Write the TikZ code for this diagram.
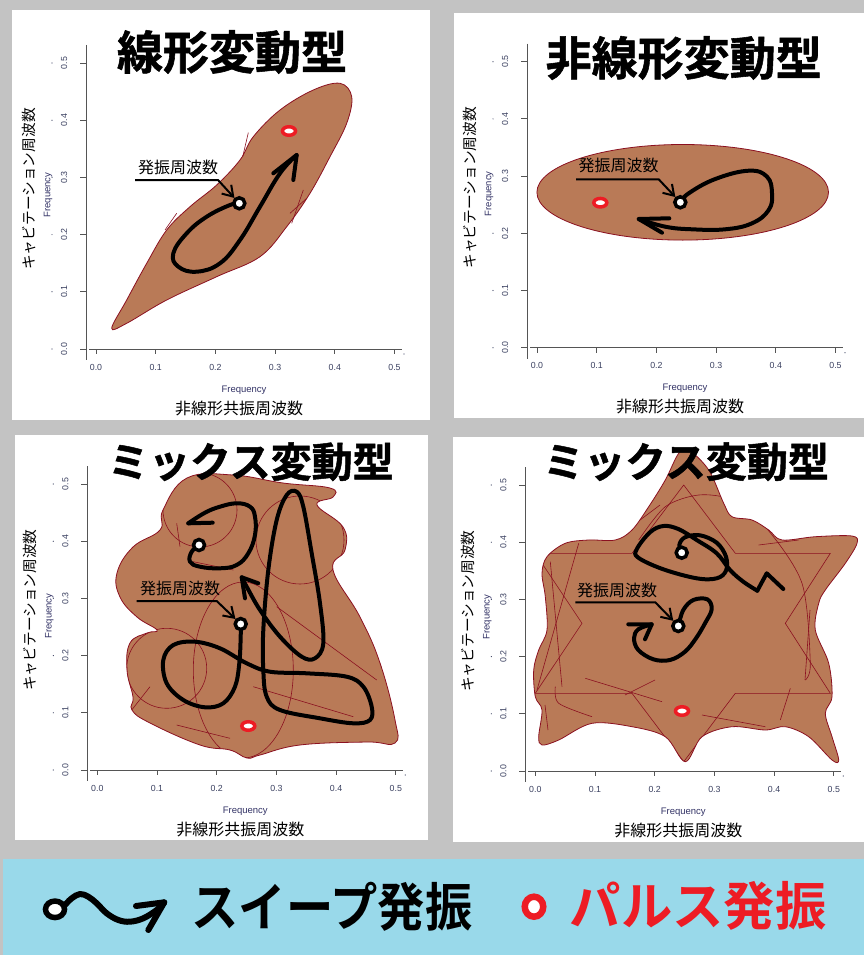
\documentclass[tikz,border=0pt]{standalone}
\usepackage{fontspec}
\usetikzlibrary{arrows.meta,shapes.geometric}
\newfontfamily\jp{Noto Sans CJK JP}
\newfontfamily\jpb{Noto Sans CJK JP Bold}
\newfontfamily\jpbb{Noto Sans CJK JP Bold}[FakeBold=1.2]
\newfontfamily\lsans{Liberation Sans}
\definecolor{bggray}{HTML}{C3C3C3}
\definecolor{legblue}{HTML}{99D9EA}
\definecolor{blobc}{HTML}{B97A57}
\definecolor{blobline}{HTML}{8B1020}
\definecolor{pulsec}{HTML}{ED1C24}
\definecolor{axcol}{HTML}{555555}
\definecolor{tickcol}{HTML}{3A4060}
\definecolor{freqcol}{HTML}{333366}
\tikzset{
  axisline/.style={draw=axcol, line width=0.8pt},
  ticklab/.style={font=\lsans\fontsize{8.8}{8.8}\selectfont, text=tickcol, inner sep=0pt},
  freqlab/.style={font=\lsans\fontsize{9.5}{9.5}\selectfont, text=freqcol, inner sep=0pt},
  xlab/.style={font=\jp\fontsize{16}{16}\selectfont, inner sep=0pt},
  ylab/.style={font=\jp\fontsize{14.7}{14.7}\selectfont, inner sep=0pt},
  titlebig/.style={font=\jpbb\fontsize{46}{46}\selectfont, inner sep=0pt},
  titlemid/.style={font=\jpbb\fontsize{41}{41}\selectfont, inner sep=0pt},
  pointlab/.style={font=\jp\fontsize{16}{16}\selectfont, inner sep=0pt},
  blobfill/.style={fill=blobc, draw=blobline, line width=0.8pt},
  thinred/.style={draw=blobline, line width=0.6pt},
  sweep/.style={draw=black, line width=4pt, line cap=round, line join=round},
  pointer/.style={draw=black, line width=2pt, line join=round, -{Straight Barb[length=10pt,width=13pt]}},
  oscnode/.style={circle, draw=black, fill=white, line width=3.5pt, minimum size=11pt, inner sep=0pt},
  pulsenode/.style={ellipse, draw=pulsec, fill=white, line width=3.5pt, minimum width=13pt, minimum height=8.5pt, inner sep=0pt},
}
\newcommand\rplotaxes[3]{%
\begin{scope}[shift={(#1,#2)}]
\draw[axisline] (-10,-304) -- (-10,11);
\draw[axisline] (-7,0) -- (306,0);
\fill[tickcol] (308,5) circle (0.6pt);
\foreach \v/\l in {0/0.0,1/0.1,2/0.2,3/0.3,4/0.4,5/0.5}{
  \draw[axisline] (-10,-57.2*\v) -- (-16.5,-57.2*\v);
  \node[ticklab,rotate=90] (#3yt\v) at (-32,-57.2*\v) {\l};
  \fill[tickcol] (-44,-57.2*\v) circle (0.6pt);
  \draw[axisline] (59.7*\v,0) -- (59.7*\v,5);
  \node[ticklab] (#3xt\v) at (59.7*\v,18) {\l};
}
\node[freqlab] (#3fx) at (148,41) {Frequency};
\node[freqlab,rotate=90] (#3fy) at (-48,-154) {Frequency};
\node[xlab] (#3xl) at (143,59) {非線形共振周波数};
\node[ylab,rotate=90] (#3yl) at (-67,-160) {キャビテーション周波数};
\end{scope}}
\begin{document}
\begin{tikzpicture}[x=1pt,y=-1pt]
\useasboundingbox (0,0) rectangle (864,955);
% background and panels
\fill[bggray] (0,0) rectangle (864,955);
\fill[white] (12,10) rectangle (430,420);
\fill[white] (454,13) rectangle (864,418);
\fill[white] (15,435) rectangle (428,840);
\fill[white] (453,437) rectangle (864,842);
\fill[legblue] (3,859) rectangle (864,955);

% axes
\rplotaxes{96}{349}{a}
\rplotaxes{537}{347.7}{b}
\rplotaxes{97.3}{770}{c}
\rplotaxes{535.3}{771}{d}

% ---------- panel 1 ----------
\path[blobfill] plot[smooth cycle, tension=0.6] coordinates {(111.7,328.3) (126.7,300) (146.7,263.3) (166.7,230) (190,206.7) (216.7,185) (240,160) (253.3,136.7) (280,110) (313.3,90) (340,83.3) (351.7,96.7) (346.7,123.3) (330,156.7) (310,193.3) (286.7,226.7) (260,256.7) (216.7,276.7) (166.7,300) (126.7,323.3)};
\draw[thinred] (248.3,132.7) -- (242.7,156.7);
\draw[thinred] (303.3,190) -- (291.7,223.3);
\draw[thinred] (306.7,198.3) -- (290,213.3);
\draw[thinred] (176.7,213.3) -- (165,230);
\draw[sweep] plot[smooth, tension=0.7] coordinates {(239.3,203.3) (230,205) (206.7,216.7) (186.7,233.3) (173.3,253.3) (178.3,266.7) (196.7,271.7) (220,263.3) (240,240) (260,206.7) (280,173.3) (296.7,155)};
\draw[sweep] (273.3,173.3) -- (296.7,155) -- (293.3,180);
\node[oscnode] (o1) at (239.3,203.3) {};
\node[pulsenode] (p1) at (289,131) {};
\node[pointlab] (l1) at (178,167) {発振周波数};
\coordinate (u1a) at (135,180);
\coordinate (u1b) at (218,180);
\draw[pointer] (u1a) -- (u1b) -- (o1);
\node[titlebig] (t1) at (232,52) {線形変動型};

% ---------- panel 2 ----------
\path[blobfill] (682.7,192.3) ellipse [x radius=145.8pt, y radius=47.8pt];
\draw[sweep] plot[smooth, tension=0.7] coordinates {(680.3,202.3) (688.7,193.3) (715.3,179) (748.7,170.7) (767,176.7) (772,193.3) (768.7,210) (752,223.3) (725.3,229.3) (692,229.3) (665.3,226.7) (638.7,219)};
\draw[sweep] (669.3,218.3) -- (638.7,219) -- (662,232.7);
\node[oscnode] (o2) at (680.3,202.3) {};
\node[pulsenode] (p2) at (600.3,202.7) {};
\node[pointlab] (l2) at (618.7,165.7) {発振周波数};
\coordinate (u2a) at (576,179.3);
\coordinate (u2b) at (658.7,179.3);
\draw[pointer] (u2a) -- (u2b) -- (o2);
\node[titlebig] (t2) at (683.7,58) {非線形変動型};

% ---------- panel 3 ----------
\def\blobthree{plot[smooth cycle, tension=0.7] coordinates {(163,510) (187,478) (233,475) (283,483) (330,488) (333,497) (317,505) (343,527) (345,550) (333,570) (360,617) (380,663) (395,720) (395,743) (367,742) (300,745) (260,755) (247,758) (230,750) (200,745) (150,723) (132,710) (133,697) (127,670) (130,643) (147,633) (157,630) (137,617) (120,597) (117,573) (133,547) (160,530)}}
\path[fill=blobc] \blobthree;
\begin{scope}
\clip \blobthree;
\draw[thinred] (200,510) circle (37pt);
\draw[thinred] (300,540) circle (44pt);
\draw[thinred] (166.7,668.3) circle (40pt);
\draw[thinred] (243.3,670) ellipse [x radius=50pt, y radius=88pt];
\draw[thinred] (276.7,606.7) -- (376.7,680);
\draw[thinred] (176.7,725) -- (230,738.3);
\draw[thinred] (253.3,686.7) -- (353.3,716.7);
\draw[thinred] (131.7,710) -- (150,686.7);
\draw[thinred] (180,546.7) -- (176.7,523.3);
\draw[thinred] (193.3,561.7) -- (233.3,570);
\end{scope}
\draw[blobline, line width=0.8pt] \blobthree;
\draw[sweep] plot[smooth, tension=0.7] coordinates {(199,545) (191.7,551.7) (190,561.7) (200,566.7) (220,568.3) (236.7,565) (248.3,553.3) (255,535) (255,516.7) (250,506.7) (236.7,503.3) (220,506.7) (205,512.7) (188.3,523.3)};
\draw[sweep] (188.3,523.3) -- (212.7,522.7);
\draw[sweep] plot[smooth, tension=0.6] coordinates {(240.7,624) (240.7,636.7) (239.3,663.3) (235,686.7) (223.3,703.3) (205,707.3) (183.3,700) (166.7,683.3) (163.3,660) (173.3,645) (195,641.7) (220,648.3) (246.7,663.3) (270,671.7) (306.7,673.3) (346.7,676.7) (363.3,686.7) (371.7,706.7) (370,720) (353.3,723.3) (320,718.3) (280,710) (266.7,696.7) (263.3,670) (263.3,630) (268.3,570) (276.7,520) (286.7,495) (296.7,491.7) (303.3,506.7) (311.7,553.3) (320,603.3) (323.3,643.3) (315,658.3) (301.7,656.7) (280,636.7) (260,610) (246.7,586.7) (241.7,577.3)};
\draw[sweep] (258.3,583.3) -- (241.7,577.3) -- (245,598.3);
\node[oscnode] (o3a) at (199,545) {};
\node[oscnode] (o3) at (240.7,624) {};
\node[pulsenode] (p3) at (248.3,726) {};
\node[pointlab] (l3) at (180,588.3) {発振周波数};
\coordinate (u3a) at (136.7,601);
\coordinate (u3b) at (216.7,601);
\draw[pointer] (u3a) -- (u3b) -- (o3);
\node[titlemid] (t3) at (250.8,461.7) {ミックス変動型};

% ---------- panel 4 ----------
\def\blobfour{plot[smooth cycle, tension=0.55] coordinates {(688.7,450) (708.7,470) (723.7,503.3) (732,516.7) (752,520) (768.7,530) (782,540) (815.3,536.7) (852,536) (857,543.3) (845.3,563.3) (825.3,590) (818.7,603.3) (815.3,630) (828.7,663.3) (832,696.7) (825.3,713.3) (832,736.7) (838.7,760) (832,760) (808.7,736.7) (785.3,726.7) (765.3,730) (732,726.7) (702,736.7) (685.3,761.7) (665.3,736.7) (632,726.7) (592,723.3) (558.7,740) (542,745) (538.7,736.7) (542,710) (535.3,696.7) (533.7,670) (538.7,650) (547,630) (545.3,596.7) (542,573.3) (547,556.7) (565.3,543.3) (588.7,540) (615.3,540) (632,530) (648.7,506.7) (665.3,480) (678.7,453.3)}}
\path[fill=blobc] \blobfour;
\begin{scope}
\clip \blobfour;
\draw[thinred, line join=miter] (683.7,485) -- (735.3,553.3) -- (830.3,553.3) -- (785.3,623.3) -- (830.3,693.3) -- (735.3,693.3) -- (683.7,761.7) -- (632,693.3) -- (535.3,693.3) -- (582,623.3) -- (535.3,553.3) -- (632,553.3) -- cycle;
\draw[thinred] plot[smooth] coordinates {(638.7,540) (665.3,506.7) (698.7,495) (732,500) (765.3,526.7) (802,583.3) (810.3,663.3) (805.3,680)};
\draw[thinred] (550.3,561.7) -- (562,686.7);
\draw[thinred] plot[smooth] coordinates {(555.3,686.7) (558.7,703.3) (592,716.7)};
\draw[thinred] (537,690) -- (578.7,543.3);
\draw[thinred] (585.3,678.3) -- (662,701.7);
\draw[thinred] (758.7,545) -- (798.7,540);
\draw[thinred] (702,715) -- (765.3,726.7);
\draw[thinred] (790.3,688.3) -- (780.3,720);
\draw[thinred] (625,695) -- (655,680);
\draw[thinred] (545,705) -- (548,730);
\draw[thinred] (640,520) -- (660,505);
\draw[thinred] (810,610) -- (805,680);
\end{scope}
\draw[blobline, line width=0.8pt] \blobfour;
\draw[sweep] plot[smooth, tension=0.6] coordinates {(681.7,552.7) (679.3,545) (685,537.3) (700,535.3) (716.7,542.7) (726,556.7) (726,570.7) (716.7,578.3) (696.7,578.3) (663.3,569.3) (638.3,557.7) (636.7,549.3) (650,532.3) (663.3,526) (678.3,529) (696.7,540) (716.7,553.3) (730,570) (743.3,581.7) (757.3,590.7)};
\draw[sweep] (757.3,590.7) -- (766.7,573.3) -- (783.3,589);
\draw[sweep] plot[smooth, tension=0.6] coordinates {(678.3,626) (683.3,610) (693.3,600) (707.3,599.3) (711.7,609.3) (705,623.3) (696,638.3) (685,651.7) (670,660) (653.3,659.3) (638.3,650) (634,638.3) (638.3,629.3) (651.7,624.3)};
\draw[sweep] (628.3,624.3) -- (651.7,624.3) -- (645,639.3);
\node[oscnode] (o4a) at (681.7,552.7) {};
\node[oscnode] (o4) at (678.3,626) {};
\node[pulsenode] (p4) at (682,711) {};
\node[pointlab] (l4) at (617,590.7) {発振周波数};
\coordinate (u4a) at (575.3,602.3);
\coordinate (u4b) at (655.3,602.3);
\draw[pointer] (u4a) -- (u4b) -- (o4);
\node[titlemid] (t4) at (686,461.7) {ミックス変動型};

% ---------- legend ----------
\draw[draw=black, line width=6pt, line cap=round, line join=round] plot[smooth, tension=0.6] coordinates {(64,906) (71.7,898.3) (80,894) (88.3,896.7) (96.7,903.3) (106.7,913.3) (118.3,920) (130,921.7) (143.3,918.3) (156.7,910) (164.3,902.3)};
\draw[draw=black, line width=6pt, line cap=round, line join=round] (136,906) -- (164.3,902.3) -- (148.3,930);
\node[ellipse, draw=black, fill=white, line width=5.5pt, minimum width=19pt, minimum height=16.5pt, inner sep=0pt] (lo) at (55,909.3) {};
\node[font=\jpb\fontsize{52}{52}\selectfont, inner sep=0pt] (ls) at (332,906.5) {\scalebox{0.91}[1]{スイープ発振}};
\node[ellipse, draw=pulsec, fill=white, line width=6.5pt, minimum width=18.5pt, minimum height=20pt, inner sep=0pt] (lp) at (534,906.7) {};
\node[font=\jpb\fontsize{52}{52}\selectfont, text=pulsec, inner sep=0pt] (lr) at (698.3,905.5) {\scalebox{0.987}[1]{パルス発振}};
\end{tikzpicture}
\end{document}
